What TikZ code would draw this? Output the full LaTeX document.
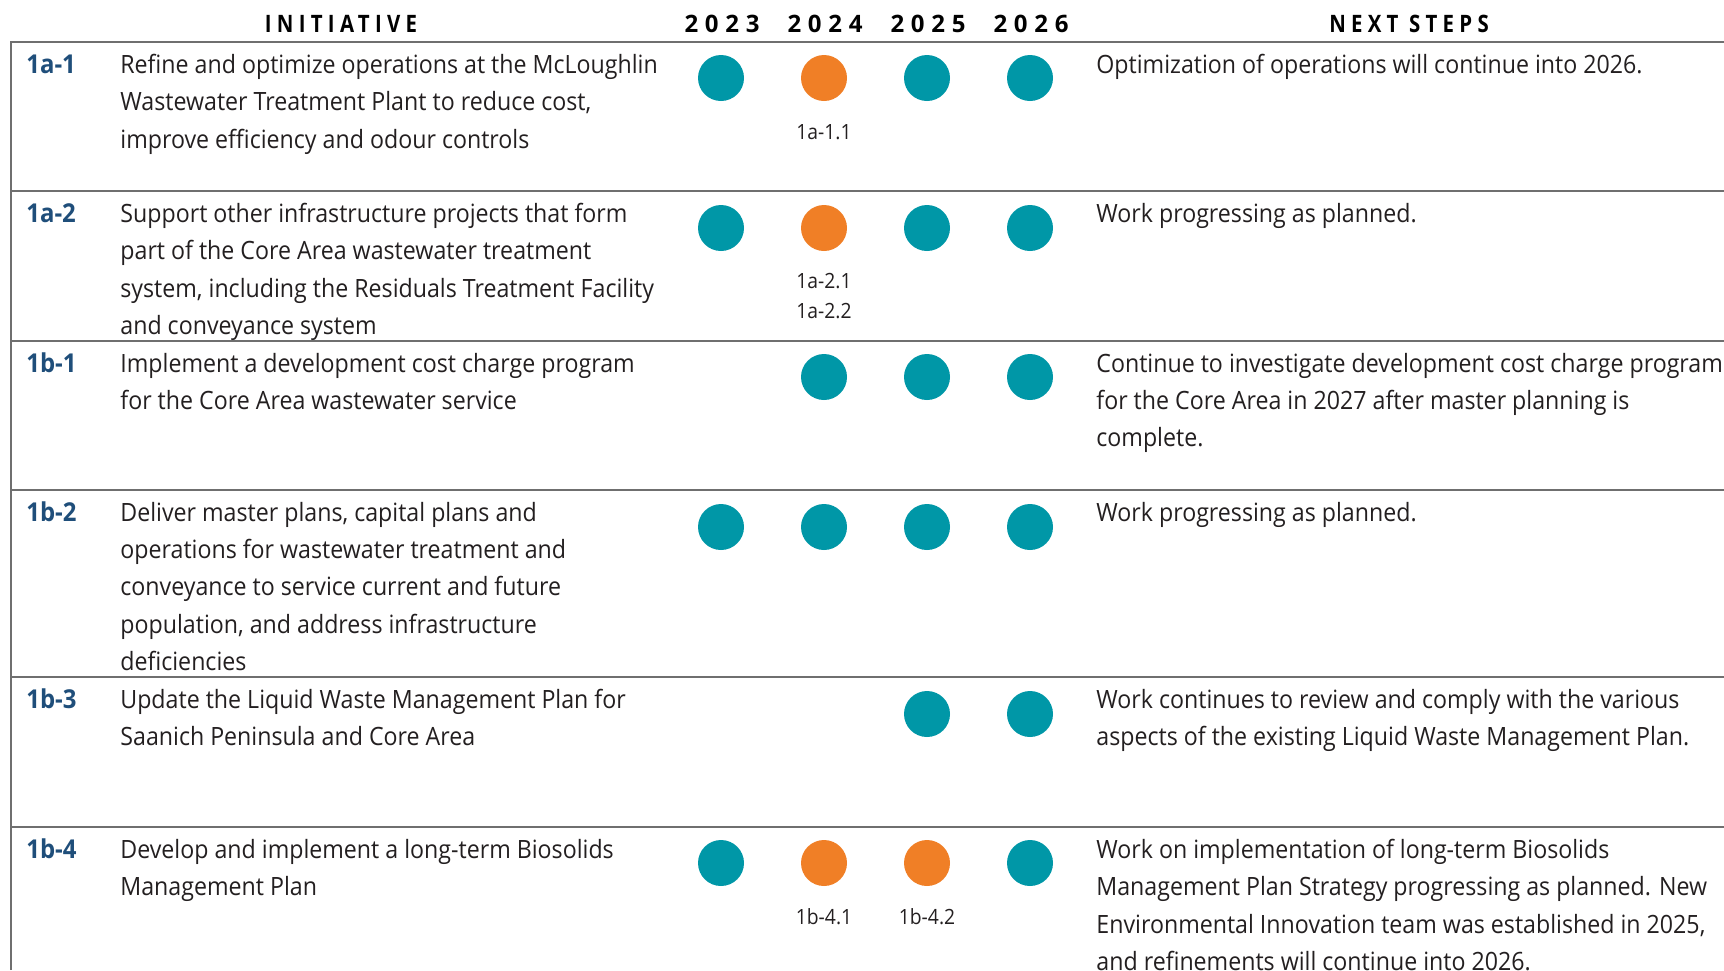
\documentclass[tikz,border=0pt]{standalone}
\usepackage{fontspec}
\setmainfont{Open Sans}[FakeStretch=0.92]
\newfontfamily\headfont{Open Sans}[FakeStretch=0.85, LetterSpace=22]
\newfontfamily\yearfont{Open Sans}[LetterSpace=28]
\definecolor{linegray}{HTML}{6F6F6F}
\definecolor{dotteal}{HTML}{0097A7}
\definecolor{dotorange}{HTML}{F07F26}
\definecolor{idblue}{HTML}{1F4E7A}
\definecolor{bodytext}{HTML}{231F20}
\tikzset{
	rowline/.style={draw=linegray, line width=1.25pt},
	ondot/.style={circle, fill=dotteal, minimum size=23pt, inner sep=0pt},
	latedot/.style={ondot, fill=dotorange},
	headtxt/.style={anchor=base, inner sep=0pt, font=\headfont\bfseries\fontsize{12}{14}\selectfont},
	yeartxt/.style={anchor=base, inner sep=0pt, font=\yearfont\bfseries\fontsize{12}{14}\selectfont},
	idtxt/.style={anchor=base west, inner sep=0pt, text=idblue, font=\bfseries\fontsize{13}{18.6}\selectfont},
	bodytxt/.style={anchor=north west, inner sep=0pt, align=left, text=bodytext, font=\fontsize{12.6}{18.6}\selectfont, execute at begin node={\rule{0pt}{12pt}}},
	onetxt/.style={anchor=base west, inner sep=0pt, text=bodytext, font=\fontsize{12.6}{18.6}\selectfont},
	subtxt/.style={anchor=base, inner sep=0pt, text=bodytext, font=\fontsize{10.5}{12}\selectfont}
}
\begin{document}
\begin{tikzpicture}[x=0.5pt, y=-0.5pt]
	\useasboundingbox (0,0) rectangle (1724,970);
	% table frame
	\draw [rowline] (11,970) -- (11,42) -- (1724,42);
	\foreach \ytop in {191,341,490,677,827}
		\draw [rowline] (11,\ytop) -- (1724,\ytop);
	% headings
	\node [headtxt] (hinit) at (341,32) {INITIATIVE};
	\node [yeartxt] (h2023) at (722,32) {2023};
	\node [yeartxt] (h2024) at (825,32) {2024};
	\node [yeartxt] (h2025) at (928,32) {2025};
	\node [yeartxt] (h2026) at (1031,32) {2026};
	\node [headtxt] (hnext) at (1409,32) {NEXT STEPS};
	% 1a-1
	\node [idtxt] (id1a1) at (26,73) {1a-1};
	\node [bodytxt] (txt1a1) at (120,54) {Refine and optimize operations at the McLoughlin\\Wastewater Treatment Plant to reduce cost,\\improve efficiency and odour controls};
	\node [ondot] (d1a1a) at (721,78) {};
	\node [latedot] (d1a1b) at (824,78) {};
	\node [ondot] (d1a1c) at (927,78) {};
	\node [ondot] (d1a1d) at (1030,78) {};
	\node [subtxt] (s1a1) at (824,139) {1a-1.1};
	\node [onetxt] (nxt1a1) at (1096,73) {Optimization of operations will continue into 2026.};
	% 1a-2
	\node [idtxt] (id1a2) at (26,222) {1a-2};
	\node [bodytxt] (txt1a2) at (120,203) {Support other infrastructure projects that form\\part of the Core Area wastewater treatment\\system, including the Residuals Treatment Facility\\and conveyance system};
	\node [ondot] (d1a2a) at (721,228) {};
	\node [latedot] (d1a2b) at (824,228) {};
	\node [ondot] (d1a2c) at (927,228) {};
	\node [ondot] (d1a2d) at (1030,228) {};
	\node [subtxt] (s1a2a) at (824,288) {1a-2.1};
	\node [subtxt] (s1a2b) at (824,318) {1a-2.2};
	\node [onetxt] (nxt1a2) at (1096,222) {Work progressing as planned.};
	% 1b-1
	\node [idtxt] (id1b1) at (26,372) {1b-1};
	\node [bodytxt] (txt1b1) at (120,353) {Implement a development cost charge program\\for the Core Area wastewater service};
	\node [ondot] (d1b1b) at (824,377) {};
	\node [ondot] (d1b1c) at (927,377) {};
	\node [ondot] (d1b1d) at (1030,377) {};
	\node [bodytxt] (nxt1b1) at (1096,353) {Continue to investigate development cost charge program\\for the Core Area in 2027 after master planning is\\complete.};
	% 1b-2
	\node [idtxt] (id1b2) at (26,521) {1b-2};
	\node [bodytxt] (txt1b2) at (120,502) {Deliver master plans, capital plans and\\operations for wastewater treatment and\\conveyance to service current and future\\population, and address infrastructure\\deficiencies};
	\node [ondot] (d1b2a) at (721,527) {};
	\node [ondot] (d1b2b) at (824,527) {};
	\node [ondot] (d1b2c) at (927,527) {};
	\node [ondot] (d1b2d) at (1030,527) {};
	\node [onetxt] (nxt1b2) at (1096,521) {Work progressing as planned.};
	% 1b-3
	\node [idtxt] (id1b3) at (26,708) {1b-3};
	\node [bodytxt] (txt1b3) at (120,689) {Update the Liquid Waste Management Plan for\\Saanich Peninsula and Core Area};
	\node [ondot] (d1b3c) at (927,714) {};
	\node [ondot] (d1b3d) at (1030,714) {};
	\node [bodytxt] (nxt1b3) at (1096,689) {Work continues to review and comply with the various\\aspects of the existing Liquid Waste Management Plan.};
	% 1b-4
	\node [idtxt] (id1b4) at (26,858) {1b-4};
	\node [bodytxt] (txt1b4) at (120,839) {Develop and implement a long-term Biosolids\\Management Plan};
	\node [ondot] (d1b4a) at (721,863) {};
	\node [latedot] (d1b4b) at (824,863) {};
	\node [latedot] (d1b4c) at (927,863) {};
	\node [ondot] (d1b4d) at (1030,863) {};
	\node [subtxt] (s1b4a) at (824,924) {1b-4.1};
	\node [subtxt] (s1b4b) at (927,924) {1b-4.2};
	\node [bodytxt] (nxt1b4) at (1096,839) {Work on implementation of long-term Biosolids\\Management Plan Strategy progressing as planned. New\\Environmental Innovation team was established in 2025,\\and refinements will continue into 2026.};
\end{tikzpicture}
\end{document}
